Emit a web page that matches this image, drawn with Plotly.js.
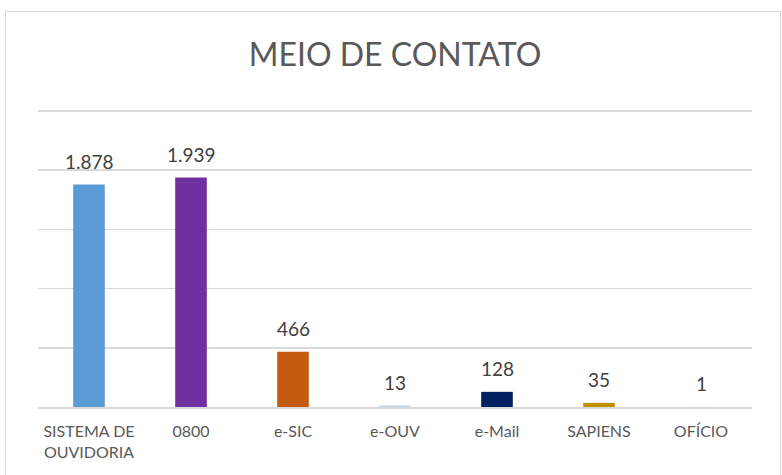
<!DOCTYPE html>
<html>
<head>
<meta charset="utf-8">
<script src="https://cdn.plot.ly/plotly-3.0.1.min.js"></script>
<style>
html,body{margin:0;padding:0;background:#fff;}
#wrap{position:relative;width:782px;height:475px;}
#chart{position:absolute;left:0;top:0;width:782px;height:475px;}
#frame{position:absolute;left:5px;top:11px;width:774px;height:470px;border:1.5px solid #D9D9D9;pointer-events:none;}
</style>
</head>
<body>
<div id="wrap"><div id="chart"></div><div id="frame"></div></div>
<script>
var categories = ["SISTEMA DE<br>OUVIDORIA", "0800", "e-SIC", "e-OUV", "e-Mail", "SAPIENS", "OFÍCIO"];
var values = [1878, 1939, 466, 13, 128, 35, 1];
var labels = ["1.878", "1.939", "466", "13", "128", "35", "1"];
var colors = ["#5B9BD5", "#7030A0", "#C55A11", "#BDD7EE", "#002060", "#BF9000", "#A9D18E"];

var FONT = "Lato, 'Open Sans', sans-serif";

var trace = {
  type: "bar",
  x: categories,
  y: values,
  marker: {color: colors},
  hoverinfo: "none"
};

var annotations = categories.map(function (c, i) {
  return {
    x: i, y: values[i], xref: "x", yref: "y",
    text: labels[i], showarrow: false,
    yanchor: "middle", yshift: 23,
    font: {family: FONT, size: 19, color: "#404040"}
  };
});

var layout = {
  width: 782, height: 475,
  margin: {l: 38, r: 30, t: 108, b: 68},
  paper_bgcolor: "rgba(0,0,0,0)",
  plot_bgcolor: "rgba(0,0,0,0)",
  showlegend: false,
  bargap: 0.69,
  annotations: annotations,
  title: {
    text: "MEIO DE CONTATO",
    font: {family: FONT, size: 32, color: "#595959"},
    x: 0.5, xref: "paper", y: 0.884, yanchor: "middle"
  },
  xaxis: {
    type: "category",
    tickfont: {family: FONT, size: 16, color: "#595959"},
    showline: true, linecolor: "#D9D9D9", linewidth: 2,
    ticks: "", ticklabelstandoff: 9, showgrid: false, fixedrange: true
  },
  yaxis: {
    range: [0, 2525], dtick: 500, tick0: 0,
    showticklabels: false, showgrid: true, gridcolor: "#D9D9D9", gridwidth: 1.5,
    zeroline: false, fixedrange: true
  }
};

Plotly.newPlot("chart", [trace], layout, {displayModeBar: false, staticPlot: true});
</script>
</body>
</html>
